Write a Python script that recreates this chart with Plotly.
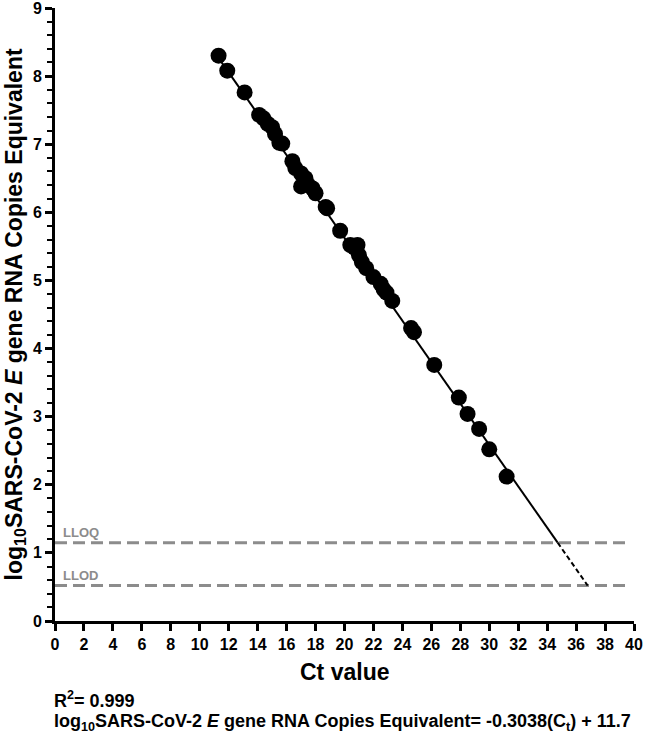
import numpy as np
import plotly.graph_objects as go

# Ct values and log10 copies
ct_values = [11.3, 11.9, 13.1, 14.1, 14.4, 14.7, 15.0, 15.2, 15.5, 15.7,
             16.4, 16.6, 17.0, 17.3, 17.0, 17.5, 17.8, 18.0, 18.7, 18.8,
             19.7, 20.4, 20.7, 20.9, 21.0, 21.2, 21.5, 22.0, 22.5, 22.7,
             22.9, 23.3, 24.6, 24.8, 26.2, 27.9, 28.5, 29.3, 30.0, 31.2]
log_copies = [8.30, 8.08, 7.76, 7.43, 7.38, 7.30, 7.25, 7.15, 7.02, 7.01,
              6.75, 6.65, 6.57, 6.50, 6.38, 6.40, 6.35, 6.28, 6.08, 6.06,
              5.73, 5.52, 5.48, 5.52, 5.37, 5.27, 5.18, 5.05, 4.95, 4.87,
              4.82, 4.70, 4.30, 4.24, 3.76, 3.28, 3.04, 2.82, 2.52, 2.12]

slope = -0.3038
intercept = 11.7
r_squared = 0.999
lloq = 1.15
llod = 0.52
fit_start = 11.5

x_ticks = list(range(0, 41, 2))
y_ticks = list(range(0, 10))

font_main = "Liberation Sans"
grey = "#8c8c8c"

# crossings of the fit with the LLOQ / LLOD lines
x_lloq = (lloq - intercept) / slope
x_llod = (llod - intercept) / slope

fig = go.Figure()

# limit lines
for lvl in [lloq, llod]:
    fig.add_trace(go.Scatter(x=[0, 39.7], y=[lvl, lvl], mode="lines",
                             line=dict(color=grey, width=3, dash="12px,6px"),
                             hoverinfo="skip", showlegend=False))

# fitted line, solid down to LLOQ then dashed to LLOD
xs = np.array([fit_start, x_lloq])
fig.add_trace(go.Scatter(x=xs, y=slope * xs + intercept, mode="lines",
                         line=dict(color="black", width=2), showlegend=False))
xs2 = np.array([x_lloq, x_llod])
fig.add_trace(go.Scatter(x=xs2, y=slope * xs2 + intercept, mode="lines",
                         line=dict(color="black", width=2, dash="5px,3px"), showlegend=False))

fig.add_trace(go.Scatter(x=ct_values, y=log_copies, mode="markers",
                         marker=dict(color="black", size=16), showlegend=False))

for lvl, name in [(lloq, "LLOQ"), (llod, "LLOD")]:
    fig.add_annotation(x=0.4, y=lvl, xref="x", yref="y", text="<b>%s</b>" % name, showarrow=False,
                       xanchor="left", yanchor="bottom", yshift=1,
                       font=dict(family=font_main, size=13, color=grey))

# axis titles as annotations so their spot is fixed
fig.add_annotation(x=0, y=0.5, xref="paper", yref="paper", xshift=-40,
                   text="<b>log<sub>10</sub>SARS-CoV-2 <i>E</i> gene RNA Copies Equivalent</b>",
                   textangle=-90, showarrow=False, xanchor="center", yanchor="middle",
                   font=dict(family=font_main, size=23, color="black"))
fig.add_annotation(x=0.5, y=0, xref="paper", yref="paper", yshift=-51,
                   text="<b>Ct value</b>", showarrow=False, xanchor="center", yanchor="middle",
                   font=dict(family=font_main, size=23, color="black"))

fig.add_annotation(x=0, y=-0.128, xref="paper", yref="paper", xshift=-3,
                   text="<b>R<sup>2</sup>= %.3f</b>" % r_squared, showarrow=False,
                   xanchor="left", yanchor="middle",
                   font=dict(family=font_main, size=18, color="black"))
fig.add_annotation(x=0, y=-0.166, xref="paper", yref="paper", xshift=-3,
                   text="<b>log<sub>10</sub>SARS-CoV-2 <i>E</i> gene RNA Copies Equivalent= %.4f(C<sub>t</sub>) + %.1f</b>" % (slope, intercept),
                   showarrow=False, xanchor="left", yanchor="middle",
                   font=dict(family=font_main, size=18, color="black"))

fig.update_xaxes(range=[0, 40], tickvals=x_ticks, ticktext=["<b>%d</b>" % t for t in x_ticks],
                 ticks="outside", ticklen=7, tickwidth=3, ticklabeloverflow="allow",
                 tickcolor="black", showline=True, linewidth=3, linecolor="black",
                 showgrid=False, zeroline=False, automargin=False,
                 tickfont=dict(family=font_main, size=16, color="black"))
fig.update_yaxes(range=[0, 9], tickvals=y_ticks, ticktext=["<b>%d</b>" % t for t in y_ticks],
                 ticks="outside", ticklen=7, tickwidth=3, ticklabeloverflow="allow",
                 tickcolor="black", showline=True, linewidth=3, linecolor="black",
                 showgrid=False, zeroline=False, automargin=False,
                 minor=dict(dtick=0.2, ticks="outside", ticklen=5, tickwidth=2, tickcolor="black"),
                 tickfont=dict(family=font_main, size=16, color="black"))

fig.update_layout(width=647, height=739, plot_bgcolor="white", paper_bgcolor="white",
                  margin=dict(l=55, r=13, t=8, b=118), showlegend=False)

# drop the default page margin so the figure sits at the window's corner
fig.write_html("out.html", config={"displayModeBar": False},
               post_script="document.body.style.margin='0';")
